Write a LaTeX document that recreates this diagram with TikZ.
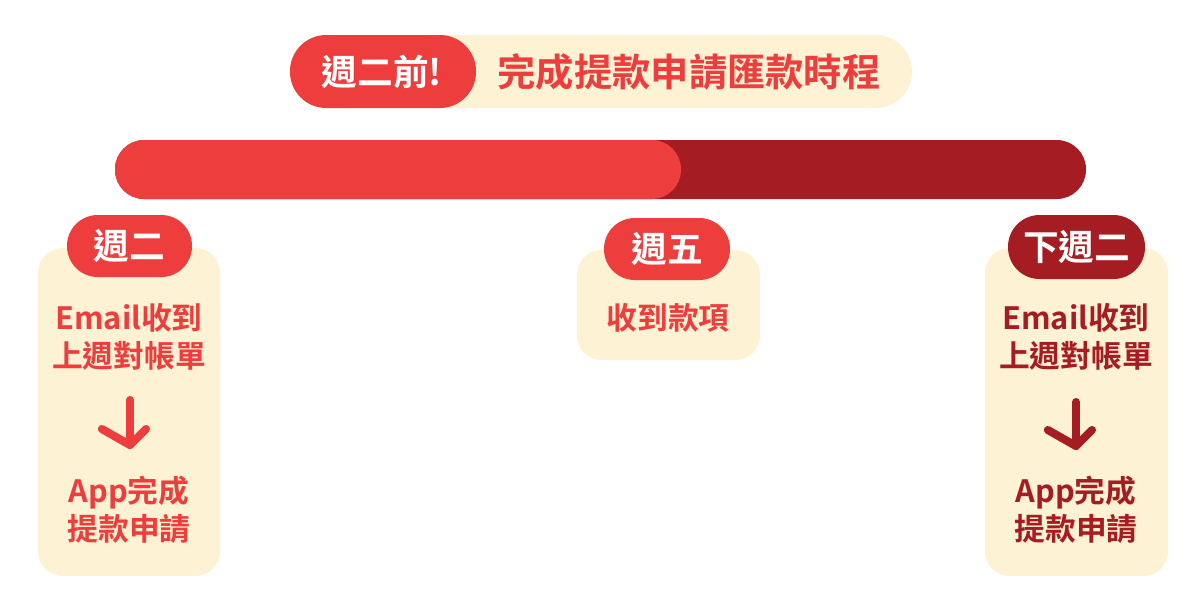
\documentclass[tikz,border=0pt]{standalone}
\usepackage{fontspec}
\setmainfont{Noto Sans CJK TC}[BoldFont={Noto Sans CJK TC Bold}]
\definecolor{cred}{HTML}{EE3D3D}
\definecolor{dred}{HTML}{A51D22}
\definecolor{cream}{HTML}{FDF2D3}
\tikzset{
  card/.style={fill=cream, rounded corners=14pt, draw=none},
  pilltxt/.style={text=white, font=\bfseries\fontsize{20.3}{22}\selectfont},
  bodytxt/.style={text=cred, font=\bfseries\fontsize{17.5}{21.5}\selectfont, align=center},
  darrow/.style={line width=4.6pt, line cap=round, line join=round},
}
\begin{document}
\begin{tikzpicture}[x=0.02cm,y=-0.02cm]
\useasboundingbox (0,0) rectangle (1200,600);
% header
\fill[cream, rounded corners=20.6pt] (290,35) rectangle (912,108);
\fill[cred, rounded corners=20.6pt] (290,35) rectangle (476,108);
\node[pilltxt] (hdr) at (382,72) {週二前!};
\node[text=cred, font=\bfseries\fontsize{21.8}{24}\selectfont] (title) at (689,72) {完成提款申請匯款時程};
% bar
\fill[dred, rounded corners=16.6pt] (115,140) rectangle (1086,199);
\fill[cred, rounded corners=16.6pt] (115,140) rectangle (681,199);
% left card
\fill[card] (38,248) rectangle (220,576);
\fill[cred, rounded corners=17.5pt] (67,215) rectangle (192,277);
\node[pilltxt] (l0) at (129.5,246) {週二};
\node[bodytxt] (l1) at (129,337) {Email收到\\上週對帳單};
\node[bodytxt] (l2) at (129,510) {App完成\\提款申請};
\coordinate (la) at (130,400);
\coordinate (lb) at (130,445);
\draw[darrow, cred] (la) -- (lb);
\draw[darrow, cred] ([xshift=-16]lb) ++(0,-16) -- (lb) -- ++(16,-16);
% middle card
\fill[card] (577,250) rectangle (760,360);
\fill[cred, rounded corners=17.5pt] (604,218) rectangle (730,280);
\node[pilltxt] (m0) at (667,249) {週五};
\node[bodytxt] (m1) at (668,318) {收到款項};
% right card
\fill[card] (985,248) rectangle (1168,576);
\fill[dred, rounded corners=18pt] (1008,215) rectangle (1145,279);
\node[pilltxt] (r0) at (1076.5,247) {下週二};
\node[bodytxt, text=dred] (r1) at (1076,337) {Email收到\\上週對帳單};
\node[bodytxt, text=dred] (r2) at (1076,510) {App完成\\提款申請};
\coordinate (ra) at (1076,402);
\coordinate (rb) at (1076,446);
\draw[darrow, dred] (ra) -- (rb);
\draw[darrow, dred] ([xshift=-16]rb) ++(0,-16) -- (rb) -- ++(16,-16);
\end{tikzpicture}
\end{document}
